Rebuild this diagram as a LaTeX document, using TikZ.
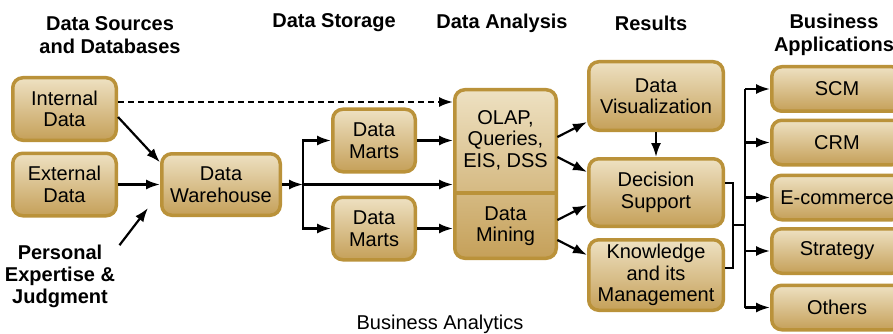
\documentclass[tikz,border=0pt]{standalone}
\usepackage{fontspec}
\setmainfont{Liberation Sans}
\usetikzlibrary{arrows.meta}
\definecolor{goldlight}{HTML}{EEE1C2}
\definecolor{golddark}{HTML}{C5A059}
\definecolor{goldedge}{HTML}{BA923A}
\begin{document}
\begin{tikzpicture}[x=1pt, y=-1pt, >={Latex[length=14pt,width=10pt]}, line width=2.2pt,
    every node/.style={font=\fontsize{20}{21.5}\selectfont},
    main node/.style={draw=goldedge, line width=3.5pt, rounded corners=10pt, top color=goldlight, bottom color=golddark, align=center, inner sep=0pt},
    source node/.style={main node, minimum width=103.5pt, minimum height=62.5pt},
    mart node/.style={main node, minimum width=82.5pt, minimum height=62.5pt},
    result node/.style={main node, minimum width=134.5pt, minimum height=68.5pt},
    app node/.style={main node, minimum width=130.5pt, minimum height=44.5pt},
    head node/.style={align=center, font=\fontsize{20}{23}\selectfont\bfseries}]

    \useasboundingbox (0,0) rectangle (893,334);

    \node[head node] at (110, 35) (hsources) {Data Sources\\and Databases};
    \node[head node] at (334, 23) (hstorage) {Data Storage};
    \node[head node] at (502, 23) (hanalysis) {Data Analysis};
    \node[head node] at (651, 23) (hresults) {Results};
    \node[head node] at (834, 35) (happs) {Business\\Applications};
    \node[head node, font=\fontsize{20}{22}\selectfont\bfseries] at (60, 276) (personal) {Personal\\Expertise \&\\Judgment};
    \node at (440, 324) (analytics) {Business Analytics};

    \node[source node] at (64.5, 109) (internal) {Internal\\Data};
    \node[source node] at (64.5, 184.5) (external) {External\\Data};
    \node[main node, minimum width=118.5pt, minimum height=61.5pt] at (221, 184.5) (warehouse) {Data\\Warehouse};
    \node[mart node] at (374, 140.5) (martsA) {Data\\Marts};
    \node[mart node] at (374, 228.5) (martsB) {Data\\Marts};
    \node[main node, minimum width=101.5pt, minimum height=168.5pt] at (505.5, 174) (analysis) {};
    \node[align=center, minimum width=101.5pt, minimum height=104pt, inner sep=0pt] at (505.5, 140) (olap) {OLAP,\\Queries,\\EIS, DSS};
    \node[align=center, minimum width=101.5pt, minimum height=68pt, inner sep=0pt] at (505.5, 226) (mining) {Data\\Mining};
    \node[result node] at (656, 96) (visual) {Data\\Visualization};
    \node[result node, minimum height=67.5pt] at (656, 192.5) (decision) {Decision\\Support};
    \node[result node, minimum height=70.5pt] at (656, 275) (knowledge) {Knowledge\\and its\\Management};
    \node[app node] at (837, 89) (scm) {SCM};
    \node[app node] at (837, 142.5) (crm) {CRM};
    \node[app node] at (837, 197.5) (ecom) {E-commerce};
    \node[app node] at (837, 251) (strategy) {Strategy};
    \node[app node] at (837, 307.5) (others) {Others};

    \draw[goldedge, line width=3.5pt] (olap.south west) -- (olap.south east);

    \coordinate (split) at (303, 184.5);
    \coordinate (joint) at (733, 225);
    \coordinate (bus) at (745, 225);

    \path[->] ([yshift=-8pt]internal.east) edge (warehouse.160);
    \path[->] (external) edge (warehouse);
    \path[->] ([yshift=-5pt]personal.north east) edge ([xshift=-12pt, yshift=9pt]warehouse.south west);
    \path[->, dash pattern=on 6pt off 4pt] ([yshift=7pt]internal.east) edge ([yshift=7pt]internal.east -| analysis.west);
    \path[->] (warehouse) edge (split);
    \path[->] (split) edge (split -| analysis.west);
    \draw[->] (split) |- (martsA);
    \draw[->] (split) |- (martsB);
    \path[->] (martsA) edge (martsA -| analysis.west);
    \path[->] (martsB) edge (martsB -| analysis.west);
    \path[->] ([yshift=3pt]olap.east) edge ([yshift=10pt]visual.south west);
    \path[->] ([yshift=-17pt]olap.east) edge ([yshift=-15pt]decision.north west);
    \path[->] ([yshift=6pt]mining.east) edge ([yshift=-12.5pt]decision.west);
    \path[->] ([yshift=-14pt]mining.east) edge ([yshift=20pt]knowledge.west);
    \path[->] (visual) edge (decision);
    \draw ([yshift=9.5pt]decision.east) -| (joint) |- ([yshift=7pt]knowledge.east);
    \draw (joint) -- (bus);
    \draw (bus |- scm) -- (bus |- others);
    \foreach \app in {scm, crm, ecom, strategy, others}
        \path[->] (bus |- \app) edge (\app.west);
\end{tikzpicture}
\end{document}
